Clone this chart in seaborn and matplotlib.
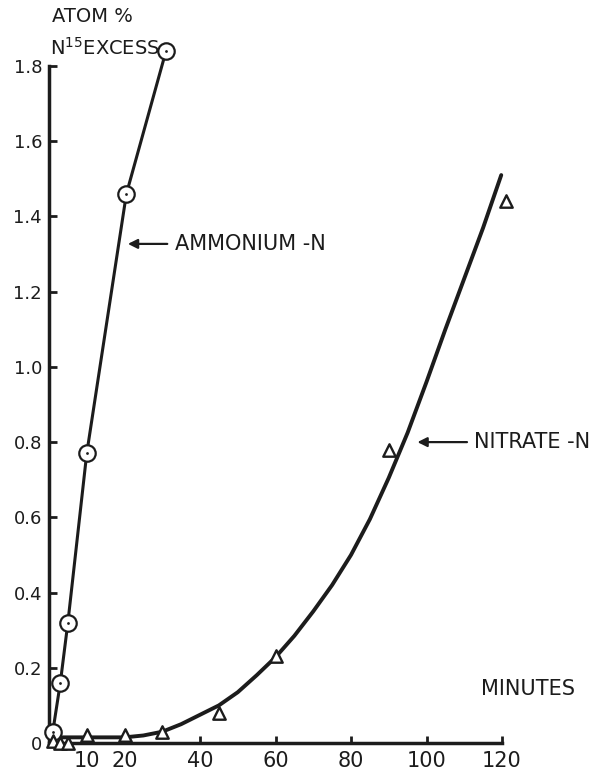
import matplotlib
matplotlib.use("Agg")
import matplotlib.pyplot as plt
import seaborn as sns
import pandas as pd

# ammonium-N: measured points (circles)
ammonium_min = [1, 3, 5, 10, 20.5, 31]
ammonium_excess = [0.03, 0.16, 0.32, 0.77, 1.46, 1.84]

# nitrate-N: measured points (triangles)
nitrate_min = [1, 3, 5, 10, 20, 30, 45, 60, 90, 121]
nitrate_excess = [0.005, 0.0, 0.0, 0.02, 0.02, 0.03, 0.08, 0.23, 0.78, 1.44]

# nitrate-N: hand-drawn curve
curve_min = [2, 10, 20, 25, 30, 35, 40, 45, 50, 55, 60, 65, 70, 75, 80, 85,
             90, 95, 100, 105, 110, 115, 119.8]
curve_excess = [0.015, 0.015, 0.015, 0.02, 0.03, 0.05, 0.075, 0.10, 0.135, 0.18,
                0.228, 0.285, 0.35, 0.42, 0.50, 0.595, 0.705, 0.825, 0.96, 1.10,
                1.235, 1.37, 1.51]

x_ticks = [10, 20, 40, 60, 80, 100, 120]
y_ticks = [0, 0.2, 0.4, 0.6, 0.8, 1.0, 1.2, 1.4, 1.6, 1.8]
y_tick_labels = ["0", "0.2", "0.4", "0.6", "0.8", "1.0", "1.2", "1.4", "1.6", "1.8"]

INK = "#1c1c1c"

sns.set_theme(style="ticks")
plt.rcParams["font.family"] = ["DejaVu Sans"]
plt.rcParams["mathtext.default"] = "regular"

W, H = 608, 775
fig = plt.figure(figsize=(W / 100, H / 100), dpi=100)

# axes placed so that 0..120 min -> 49..502 px and 0..1.8 -> 743..66 px
px_min = (502 - 49) / 120
px_unit = (743 - 66) / 1.8
xmax, ymax = 130, 1.9
ax = fig.add_axes([49 / W, (H - 743) / H, px_min * xmax / W, px_unit * ymax / H])
ax.set_xlim(0, xmax)
ax.set_ylim(0, ymax)

amm = pd.DataFrame({"t": ammonium_min, "v": ammonium_excess})
nit = pd.DataFrame({"t": nitrate_min, "v": nitrate_excess})
crv = pd.DataFrame({"t": curve_min, "v": curve_excess})

sns.lineplot(data=amm, x="t", y="v", color=INK, linewidth=2.2, sort=False, ax=ax)
sns.lineplot(data=crv, x="t", y="v", color=INK, linewidth=2.8, sort=False, ax=ax)
sns.scatterplot(data=amm, x="t", y="v", marker="o", s=140, facecolor="white",
                edgecolor=INK, linewidth=1.6, zorder=5, ax=ax)
sns.scatterplot(data=amm, x="t", y="v", marker="o", s=4, color=INK,
                linewidth=0, zorder=6, ax=ax)
sns.scatterplot(data=nit, x="t", y="v", marker="^", s=80, facecolor="white",
                edgecolor=INK, linewidth=1.7, zorder=5, ax=ax)
for art in ax.collections + ax.lines:
    art.set_clip_on(False)
for ln in ax.lines:
    ln.set_solid_joinstyle("round")
    ln.set_solid_capstyle("round")

# spines and ticks
sns.despine(ax=ax)
for side in ["left", "bottom"]:
    ax.spines[side].set_linewidth(2.5)
    ax.spines[side].set_color(INK)
ax.spines["left"].set_bounds(0, 1.8)
ax.spines["bottom"].set_bounds(0, 120)
ax.set_xticks(x_ticks)
ax.set_yticks(y_ticks)
ax.set_yticklabels(y_tick_labels)
ax.tick_params(axis="y", direction="in", length=6, width=2, color=INK,
               labelsize=13, pad=5, labelcolor=INK)
ax.tick_params(axis="x", direction="in", length=5, width=2, color=INK,
               labelsize=15, pad=6, labelcolor=INK)
ax.set_xlabel("")
ax.set_ylabel("")

# labels
fig.text(52 / W, 1 - 17 / H, "ATOM %", fontsize=14, va="center", color=INK)
fig.text(50 / W, 1 - 48 / H, "N$^{15}$EXCESS", fontsize=14, va="center", color=INK)
ax.text(114.5, 0.144, "MINUTES", fontsize=15, va="center", color=INK)

arrow = dict(arrowstyle="-|>", color=INK, lw=1.6, mutation_scale=14, shrinkA=3, shrinkB=0)
ax.annotate("AMMONIUM -N", xy=(20.9, 1.327), xytext=(33.3, 1.327), fontsize=15,
            va="center", ha="left", color=INK, arrowprops=arrow)
ax.annotate("NITRATE -N", xy=(97.6, 0.80), xytext=(112.7, 0.80), fontsize=15,
            va="center", ha="left", color=INK, arrowprops=arrow)

fig.savefig("out.png", dpi=100, facecolor="white")
